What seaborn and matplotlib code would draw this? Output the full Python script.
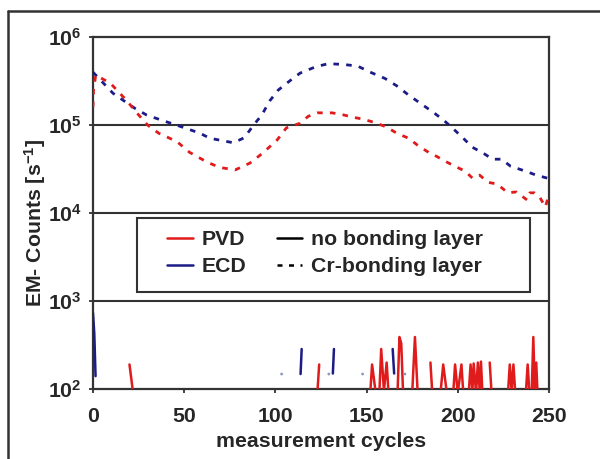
import numpy as np
import pandas as pd
import matplotlib
matplotlib.use("Agg")
import matplotlib.pyplot as plt
from matplotlib.lines import Line2D
from matplotlib.patches import Rectangle
import seaborn as sns

# ---------------- data ----------------
# Cr-bonding layer (dashed)
ecd_cr_cycles = [0, 11, 23, 29.5, 37, 49, 58.6, 64, 77, 83, 88, 92.5, 97, 101.5, 108, 113.5,
                 122, 129, 137, 145, 152, 160, 166.5, 173, 179, 186.5, 192, 197, 203, 208,
                 214, 219, 224, 229, 233, 238, 243, 249]
ecd_cr_counts = [4.0e5, 2.3e5, 1.55e5, 1.3e5, 1.15e5, 9.5e4, 8.1e4, 7.1e4, 6.3e4, 7.2e4, 1.0e5,
                 1.3e5, 1.9e5, 2.5e5, 3.2e5, 3.9e5, 4.6e5, 5.0e5, 4.9e5, 4.7e5, 4.0e5, 3.4e5,
                 2.8e5, 2.2e5, 1.8e5, 1.4e5, 1.15e5, 9.3e4, 7.1e4, 5.6e4, 4.8e4, 4.1e4, 4.1e4,
                 3.4e4, 3.2e4, 2.95e4, 2.7e4, 2.5e4]

pvd_cr_cycles = [0, 0.3, 1.5, 9.5, 18.5, 24, 30, 36, 46, 53, 62.5, 69.5, 78, 86, 93, 101, 106,
                 113.5, 118, 123, 131, 136.5, 142.5, 148, 154.5, 161, 166.5, 173, 178, 184,
                 188.5, 194, 198.5, 204, 208, 212, 216.5, 221.5, 227.5, 232, 238, 239.5, 242,
                 245, 248, 249.5]
pvd_cr_counts = [1.6e5, 2.5e5, 3.7e5, 3.0e5, 1.9e5, 1.38e5, 1.0e5, 8.1e4, 6.5e4, 4.9e4, 3.8e4,
                 3.3e4, 3.1e4, 3.7e4, 4.8e4, 6.8e4, 9.3e4, 1.05e5, 1.26e5, 1.38e5, 1.38e5,
                 1.32e5, 1.23e5, 1.17e5, 1.07e5, 9.5e4, 8.1e4, 7.1e4, 5.9e4, 4.9e4, 4.4e4,
                 3.8e4, 3.4e4, 3.0e4, 2.5e4, 2.7e4, 2.24e4, 2.14e4, 1.7e4, 1.74e4, 1.41e4,
                 1.7e4, 1.7e4, 1.51e4, 1.17e4, 1.51e4]

# no bonding layer (solid) - zero counts separate the segments
pvd_no_cycles = [20, 22, None,
                 123, 124, None,
                 152, 153, 155, None,
                 157, 158, 159.5, 161, 162, None,
                 167, 168, 169, 170, None,
                 175, 176.5, 178, None,
                 185, 186, None,
                 190.5, 192, 194, None,
                 197.5, 198.5, 200, 202, 203, None,
                 206, 207, 208, 208.7, 210, 211, 212, 212.7, 213.5, None,
                 217.5, 218.5, None,
                 227.5, 228.5, 229.5, 230.5, 231.5, None,
                 237.3, 238.3, 239.2, None,
                 240.5, 241.4, 242.2, 243, 243.7]
pvd_no_counts = [190, 90, None,
                 90, 190, None,
                 90, 190, 90, None,
                 90, 285, 95, 200, 90, None,
                 95, 390, 330, 90, None,
                 90, 390, 90, None,
                 200, 90, None,
                 90, 190, 90, None,
                 90, 190, 90, 190, 90, None,
                 90, 190, 95, 195, 90, 200, 95, 205, 90, None,
                 200, 90, None,
                 90, 190, 95, 190, 90, None,
                 90, 190, 95, None,
                 90, 390, 95, 200, 90]

ecd_no_cycles = [0, 0.7, 1.4, None,
                 113.8, 114.4, None,
                 131.5, 132.1, None,
                 164.3, 165.1]
ecd_no_counts = [730, 430, 140, None,
                 148, 285, None,
                 150, 285, None,
                 285, 150]

single_cycles = [103.4, 129.3, 147.8, 171]
single_counts = [148, 148, 148, 148]

y_ticks = [1e2, 1e3, 1e4, 1e5, 1e6]
y_tick_labels = [r"$\mathbf{10^{2}}$", r"$\mathbf{10^{3}}$", r"$\mathbf{10^{4}}$",
                 r"$\mathbf{10^{5}}$", r"$\mathbf{10^{6}}$"]
x_ticks = [0, 50, 100, 150, 200, 250]


def segments(cycles, counts, name):
    rows, seg = [], 0
    for c, v in zip(cycles, counts):
        if c is None:
            seg += 1
            continue
        rows.append({"cycle": c, "counts": v, "seg": f"{name}{seg}"})
    return pd.DataFrame(rows)


# ---------------- style ----------------
sns.set_theme(style="white")
plt.rcParams["font.family"] = ["Liberation Sans", "DejaVu Sans"]
plt.rcParams["font.weight"] = "bold"
plt.rcParams["mathtext.fontset"] = "custom"
plt.rcParams["mathtext.rm"] = "Liberation Sans:bold"
plt.rcParams["mathtext.bf"] = "Liberation Sans:bold"
plt.rcParams["mathtext.it"] = "Liberation Sans:bold"

RED = "#e01b1b"
BLUE = "#1c1c86"
GRID = "#333333"
FS = 15.3

fig = plt.figure(figsize=(6.0, 4.59), dpi=100)
ax = fig.add_axes([0.155, 0.1525, 0.76, 0.7665])

df_ecd_cr = pd.DataFrame({"cycle": ecd_cr_cycles, "counts": ecd_cr_counts})
df_pvd_cr = pd.DataFrame({"cycle": pvd_cr_cycles, "counts": pvd_cr_counts})
df_pvd_no = segments(pvd_no_cycles, pvd_no_counts, "p")
df_ecd_no = segments(ecd_no_cycles, ecd_no_counts, "e")

for yv in y_ticks[1:-1]:
    ax.axhline(yv, color=GRID, lw=1.5, zorder=1)

sns.lineplot(data=df_ecd_cr, x="cycle", y="counts", ax=ax, color=BLUE, lw=2.0,
             sort=False, estimator=None, zorder=3).lines[-1].set_dashes([2.0, 2.6])
sns.lineplot(data=df_pvd_cr, x="cycle", y="counts", ax=ax, color=RED, lw=2.0,
             sort=False, estimator=None, zorder=3).lines[-1].set_dashes([2.0, 2.6])
sns.lineplot(data=df_pvd_no, x="cycle", y="counts", units="seg", estimator=None, sort=False,
             ax=ax, color=RED, lw=1.8, zorder=4)
sns.lineplot(data=df_ecd_no, x="cycle", y="counts", units="seg", estimator=None, sort=False,
             ax=ax, color=BLUE, lw=1.8, zorder=4)
sns.scatterplot(x=single_cycles, y=single_counts, ax=ax, color="#8a97b8", s=4,
                edgecolor="none", zorder=4)

ax.set_yscale("log")
ax.set_ylim(1e2, 1e6)
ax.set_xlim(0, 250)
ax.set_yticks(y_ticks)
ax.set_yticklabels(y_tick_labels)
ax.minorticks_off()
ax.set_xticks(x_ticks)
ax.set_xticklabels([str(t) for t in x_ticks])
ax.tick_params(axis="both", which="major", labelsize=FS, length=3, width=1.3,
               color=GRID, direction="out", left=True, bottom=True)
ax.tick_params(axis="x", pad=10)
ax.tick_params(axis="y", pad=5)
for lab in ax.get_xticklabels():
    lab.set_fontweight("bold")

ax.set_xlabel("measurement cycles", fontsize=FS, fontweight="bold", labelpad=4)
ax.set_ylabel(r"EM- Counts [s$^{\mathbf{-1}}$]", fontsize=FS, fontweight="bold")
ax.yaxis.set_label_coords(-0.098, 0.472)

for sp in ax.spines.values():
    sp.set_visible(True)
    sp.set_color(GRID)
    sp.set_linewidth(1.6)

# legend box and legend
ax.add_patch(Rectangle((0.096, 0.276), 0.862, 0.21, transform=ax.transAxes,
                       facecolor="white", edgecolor=GRID, lw=1.5, zorder=5))
handles = [Line2D([], [], color=RED, lw=1.8),
           Line2D([], [], color=BLUE, lw=1.8),
           Line2D([], [], color="black", lw=1.8),
           Line2D([], [], color="black", lw=1.8, dashes=[2.0, 2.6])]
labels = ["PVD", "ECD", "no bonding layer", "Cr-bonding layer"]
leg = ax.legend(handles, labels, ncol=2, loc="upper left", bbox_to_anchor=(0.163, 0.452),
                frameon=False, fontsize=FS, handlelength=1.2, handletextpad=0.4,
                columnspacing=1.45, labelspacing=0.4, borderpad=0, borderaxespad=0)
leg.set_zorder(6)
for t in leg.get_texts():
    t.set_fontweight("bold")

# outer frame
fig.add_artist(Line2D([0.0133, 0.0133], [0.0, 0.976], transform=fig.transFigure,
                      color=GRID, lw=1.8))
fig.add_artist(Line2D([0.0133, 1.0], [0.976, 0.976], transform=fig.transFigure,
                      color=GRID, lw=1.8))

fig.savefig("out.png", dpi=100)
